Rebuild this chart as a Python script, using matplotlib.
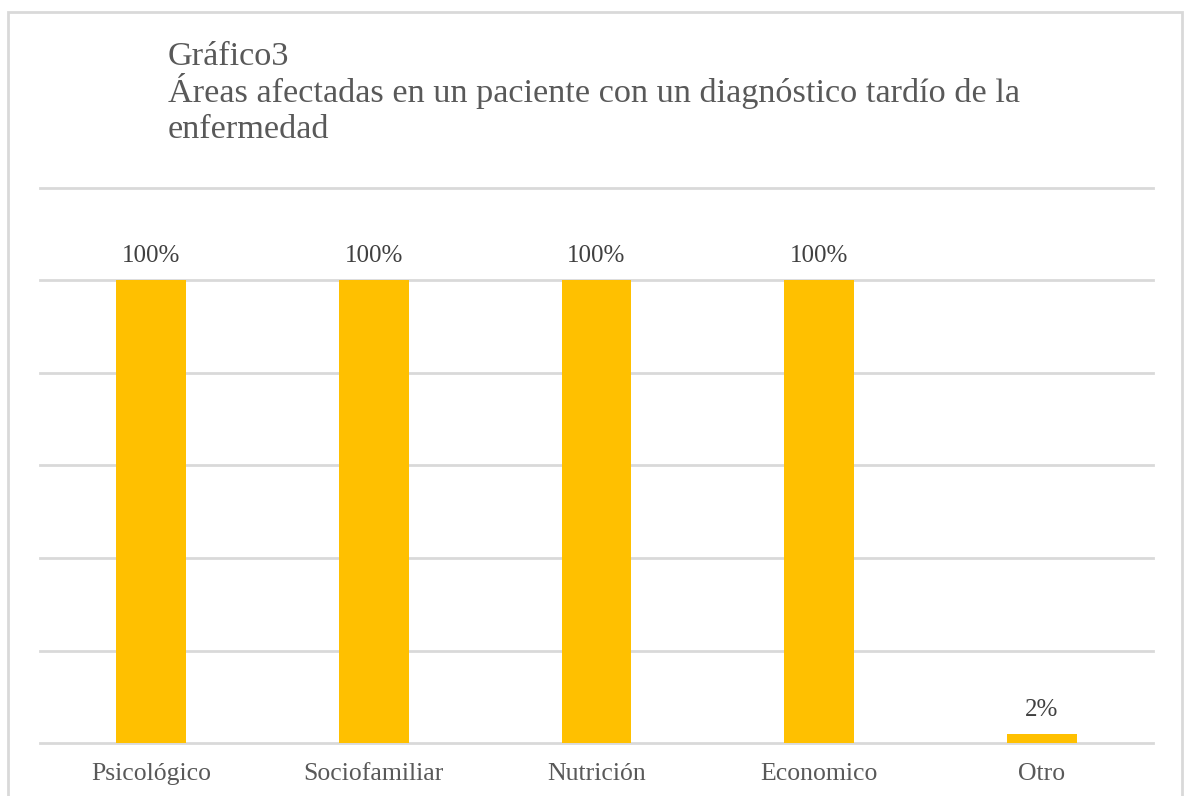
import matplotlib.pyplot as plt
import numpy as np

plt.rcParams['font.family'] = ['Liberation Serif', 'DejaVu Serif']

areas = ['Psicológico', 'Sociofamiliar', 'Nutrición', 'Economico', 'Otro']
porcentajes = [100, 100, 100, 100, 2]
etiquetas = ['100%', '100%', '100%', '100%', '2%']
titulo = ['Gráfico3',
          'Áreas afectadas en un paciente con un diagnóstico tardío de la',
          'enfermedad']

W, H = 1186, 796
fig = plt.figure(figsize=(W / 100, H / 100), dpi=100)
ax = fig.add_axes([40 / W, 1 - 743 / H, 1113 / W, 555 / H])

x = np.arange(len(areas))
bars = ax.bar(x, porcentajes, width=0.314, color='#FFC000', zorder=3)

ax.set_xlim(-0.5, len(areas) - 0.5)
ax.set_ylim(0, 120)
for yv in np.arange(0, 121, 20):
    ax.axhline(yv, color='#D9D9D9', linewidth=2, zorder=0, clip_on=False)
ax.set_yticks([])
ax.tick_params(axis='x', bottom=False, labelsize=18.5, labelcolor='#595959', pad=11)
ax.set_xticks(x)
ax.set_xticklabels(areas)
for s in ax.spines.values():
    s.set_visible(False)

# etiquetas de datos sobre cada barra
for b, t in zip(bars, etiquetas):
    ax.annotate(t, (b.get_x() + b.get_width() / 2, b.get_height()),
                xytext=(0, 13), textcoords='offset points', ha='center', va='baseline',
                fontsize=18, color='#404040')

# titulo en tres lineas
for linea, yb in zip(titulo, [65, 102, 138]):
    fig.text(168 / W, 1 - yb / H, linea, ha='left', va='baseline',
             fontsize=24.7, color='#595959')

# marco exterior del grafico
marco = plt.Rectangle((8 / W, -0.05), 1174 / W, 1.05 - 12 / H, transform=fig.transFigure,
                      fill=False, edgecolor='#D9D9D9', linewidth=2)
fig.patches.append(marco)

fig.savefig('out.png', dpi=100)
